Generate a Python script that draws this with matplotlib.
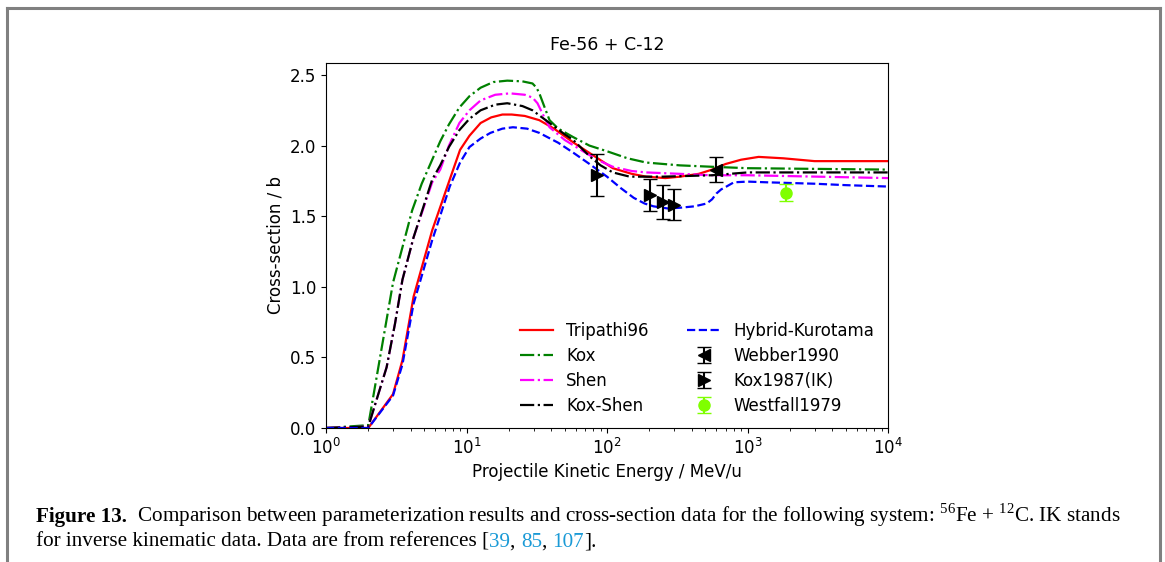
import matplotlib
matplotlib.use("Agg")
import matplotlib.pyplot as plt
from matplotlib.lines import Line2D

plt.rcParams["font.size"] = 12
plt.rcParams["mathtext.fontset"] = "custom"
plt.rcParams["mathtext.rm"] = "Liberation Serif"

W, H = 1165, 562

# curves (energy in MeV/u, cross-section in b)
tri_e = [1, 2, 3, 3.5, 4.2, 5.7, 7.6, 9, 10.5, 12.6, 15, 18, 21, 26, 33, 42, 58, 80, 110, 150,
         190, 260, 330, 450, 560, 700, 900, 1200, 1800, 3000, 10000]
tri_v = [0, 0, 0.24, 0.48, 0.93, 1.40, 1.76, 1.97, 2.07, 2.16, 2.20, 2.22, 2.22, 2.21, 2.18, 2.12,
         2.02, 1.93, 1.84, 1.80, 1.78, 1.77, 1.78, 1.80, 1.83, 1.87, 1.90, 1.92, 1.91, 1.89, 1.89]

kox_e = [1, 2, 3, 3.5, 4.1, 4.8, 6.5, 7.5, 8.9, 10.5, 12.6, 15.5, 19.5, 25, 29.5, 31.5, 33, 36, 39,
         45, 57.5, 75, 100, 140, 190, 330, 560, 1000, 10000]
kox_v = [0, 0.02, 1.03, 1.28, 1.54, 1.73, 2.03, 2.15, 2.27, 2.35, 2.41, 2.45, 2.46, 2.455, 2.44, 2.41,
         2.37, 2.27, 2.18, 2.12, 2.06, 2.00, 1.96, 1.91, 1.88, 1.86, 1.85, 1.84, 1.83]

shen_e = [1, 2, 2.7, 3.1, 3.5, 4.2, 5.7, 6.5, 7.5, 8.9, 10.5, 12.6, 16, 20.4, 26, 29.5, 32, 35, 39,
          50, 65, 85, 110, 150, 190, 330, 550, 1000, 10000]
shen_v = [0, 0.01, 0.43, 0.74, 1.05, 1.35, 1.74, 1.83, 2.00, 2.16, 2.25, 2.32, 2.36, 2.37, 2.36, 2.34,
          2.30, 2.22, 2.13, 2.04, 1.97, 1.90, 1.85, 1.82, 1.81, 1.80, 1.79, 1.79, 1.77]

ks_e = [1, 2, 2.7, 3.1, 3.5, 4.2, 5.7, 6.5, 7.5, 8.9, 10.5, 12.6, 16, 19.5, 25, 29.5, 39, 50, 57.5,
        76, 90, 110, 145, 250, 560, 1000, 10000]
ks_v = [0, 0.01, 0.43, 0.74, 1.05, 1.35, 1.76, 1.86, 1.99, 2.11, 2.19, 2.25, 2.29, 2.30, 2.28, 2.25,
        2.16, 2.08, 2.04, 1.92, 1.86, 1.81, 1.78, 1.78, 1.79, 1.81, 1.81]

hk_e = [1, 2, 3, 3.5, 4.2, 5.7, 7.6, 9, 10.5, 12.6, 14.8, 18, 21.4, 27, 33, 45, 57.5, 75, 100, 125,
        155, 185, 214, 270, 331, 420, 513, 560, 600, 650, 708, 800, 1000, 1380, 3000, 5000, 10000]
hk_v = [0, 0, 0.23, 0.45, 0.88, 1.33, 1.71, 1.88, 1.99, 2.05, 2.09, 2.12, 2.13, 2.12, 2.09, 2.02,
        1.95, 1.87, 1.78, 1.70, 1.63, 1.59, 1.57, 1.555, 1.56, 1.57, 1.59, 1.62, 1.66, 1.69, 1.71,
        1.74, 1.745, 1.74, 1.73, 1.72, 1.71]

# measurements
web_e, web_v, web_err = [600], [1.83], [0.09]
kox87_e = [85, 203, 250, 300]
kox87_v = [1.79, 1.65, 1.60, 1.58]
kox87_err = [0.15, 0.11, 0.12, 0.11]
wf_e, wf_v, wf_err = [1880], [1.665], [0.06]

fig = plt.figure(figsize=(W / 100, H / 100), dpi=100)
ax = fig.add_axes([326 / W, 1 - 428 / H, (888 - 326) / W, (428 - 63) / H])

ax.plot(tri_e, tri_v, color="red", lw=1.6, label="Tripathi96")
ax.plot(kox_e, kox_v, color="green", lw=1.6, ls="-.", label="Kox")
ax.plot(shen_e, shen_v, color="magenta", lw=1.6, ls="-.", label="Shen")
ax.plot(ks_e, ks_v, color="black", lw=1.6, ls="-.", label="Kox-Shen")
ax.plot(hk_e, hk_v, color="blue", lw=1.6, ls="--", label="Hybrid-Kurotama")

ax.errorbar(web_e, web_v, yerr=web_err, fmt="<", color="black", ms=8, capsize=5, label="Webber1990")
ax.errorbar(kox87_e, kox87_v, yerr=kox87_err, fmt=">", color="black", ms=8, capsize=5, label="Kox1987(IK)")
ax.errorbar(wf_e, wf_v, yerr=wf_err, fmt="o", color="chartreuse", ms=8, capsize=5, label="Westfall1979")

ax.set_xscale("log")
ax.set_xlim(1, 1e4)
ax.set_ylim(0, 2.585)
ax.set_yticks([0, 0.5, 1.0, 1.5, 2.0, 2.5])
ax.set_title("Fe-56 + C-12", fontsize=12.5, pad=9)
ax.set_xlabel("Projectile Kinetic Energy / MeV/u")
ax.set_ylabel("Cross-section / b")
ax.legend(ncol=2, loc="lower right", frameon=False, fontsize=12,
          columnspacing=2.3, handlelength=2.0, borderaxespad=0.4, labelspacing=0.42)

# page frame around the figure
frame_kw = dict(color="#808080", lw=2.2, transform=fig.transFigure)
fig.add_artist(Line2D([7 / W, 7 / W], [0, 1 - 8 / H], **frame_kw))
fig.add_artist(Line2D([7 / W, 1160 / W], [1 - 8 / H, 1 - 8 / H], **frame_kw))
fig.add_artist(Line2D([1160 / W, 1160 / W], [0, 1 - 8 / H], **frame_kw))

# caption, written as consecutive runs
fig.canvas.draw()
renderer = fig.canvas.get_renderer()
cap_kw = dict(family="Liberation Serif", fontsize=15.2, va="baseline")
link = "#1a9ad6"


def put_run(x, y, pieces):
    for text, extra in pieces:
        t = fig.text(x / W, 1 - y / H, text, **cap_kw, **extra)
        x += t.get_window_extent(renderer).width


put_run(36, 522, [
    ("Figure 13.", dict(weight="bold")),
    ("  Comparison between parameterization results and cross-section data for the following system: "
     r"$^{56}$Fe + $^{12}$C. IK stands", {}),
])
put_run(36, 547, [
    ("for inverse kinematic data. Data are from references [", {}),
    ("39", dict(color=link)), (", ", {}),
    ("85", dict(color=link)), (", ", {}),
    ("107", dict(color=link)), ("].", {}),
])

fig.savefig("out.png", dpi=100)
